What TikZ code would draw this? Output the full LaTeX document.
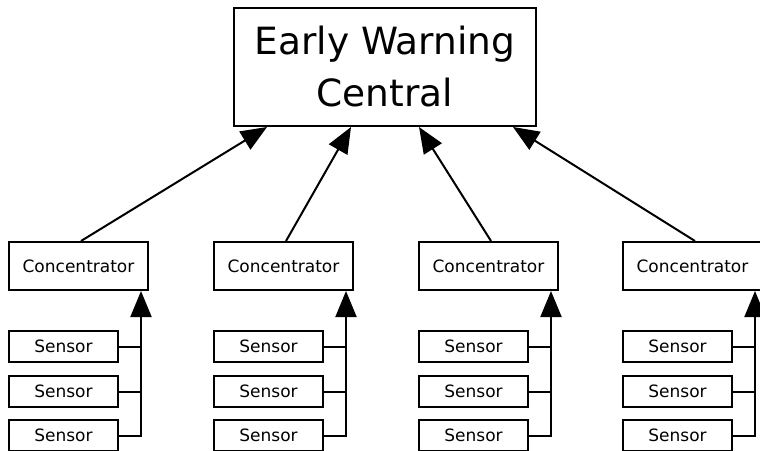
\documentclass[tikz,border=0pt]{standalone}
\usepackage{fontspec}
\setmainfont{DejaVu Sans}
\usetikzlibrary{arrows.meta,calc}
\tikzset{
  box/.style={draw=black, line width=2pt, fill=white, inner sep=0pt, anchor=north west},
  central/.style={box, minimum width=302pt, minimum height=118pt, align=center,
    font=\fontsize{37.5}{52}\selectfont},
  conc/.style={box, minimum width=139pt, minimum height=48pt, font=\fontsize{17}{20}\selectfont},
  sensor/.style={box, minimum width=109pt, minimum height=31pt, font=\fontsize{17}{20}\selectfont},
  link/.style={line width=2pt},
  arr/.style={line width=2pt, -{Triangle[length=26pt,width=21pt]}},
}
\begin{document}
\begin{tikzpicture}[x=1pt,y=-1pt]
\useasboundingbox (0,0) rectangle (760,450);
\fill[white] (0,0) rectangle (760,450);

% central station
\node[central] (ew) at (233,7) {Early Warning\\Central};

% one column: concentrator, its three sensors and the bus between them
\foreach \i/\lx/\tx in {1/8/267, 2/213/351, 3/418/419, 4/622/513} {
  \node[conc] (c\i) at (\lx,241) {Concentrator};
  \node[sensor] (s\i a) at (\lx,330) {Sensor};
  \node[sensor] (s\i b) at (\lx,375) {Sensor};
  \node[sensor] (s\i c) at (\lx,419) {Sensor};
  \coordinate (b\i) at ([xshift=-8pt]c\i.south east);
  \draw[link] (s\i a.east) -- (s\i a.east -| b\i);
  \draw[link] (s\i b.east) -- (s\i b.east -| b\i);
  \draw[arr] (s\i c.east) -| (b\i);
  \draw[arr] ([xshift=73pt]c\i.north west) -- ([xshift={\tx-233}]ew.south west);
}
\end{tikzpicture}
\end{document}
